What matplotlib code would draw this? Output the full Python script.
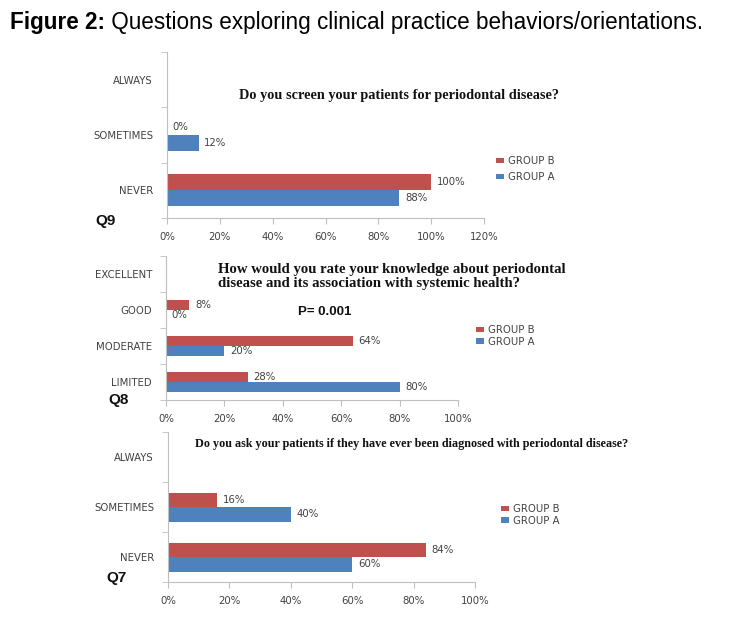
import numpy as np
import matplotlib
matplotlib.use("Agg")
import matplotlib.pyplot as plt

# ---------------- data ----------------
q9_categories = ["NEVER", "SOMETIMES", "ALWAYS"]
q9_group_a = [88, 12, np.nan]
q9_group_b = [100, 0, np.nan]
q9_ticks = [0, 20, 40, 60, 80, 100, 120]
q9_title = "Do you screen your patients for periodontal disease?"

q8_categories = ["LIMITED", "MODERATE", "GOOD", "EXCELLENT"]
q8_group_a = [80, 20, 0, np.nan]
q8_group_b = [28, 64, 8, np.nan]
q8_ticks = [0, 20, 40, 60, 80, 100]
q8_title = "How would you rate your knowledge about periodontal\ndisease and its association with systemic health?"
q8_pvalue = "P= 0.001"

q7_categories = ["NEVER", "SOMETIMES", "ALWAYS"]
q7_group_a = [60, 40, np.nan]
q7_group_b = [84, 16, np.nan]
q7_ticks = [0, 20, 40, 60, 80, 100]
q7_title = "Do you ask your patients if they have ever been diagnosed with periodontal disease?"

series_names = ["GROUP B", "GROUP A"]
fig_title_bold = "Figure 2:"
fig_title_rest = " Questions exploring clinical practice behaviors/orientations."

RED = "#C0504D"
BLUE = "#4F81BD"
TXT = "#404040"
AX = "#BFBFBF"
FS = 7.3

W, H = 756, 628
fig = plt.figure(figsize=(W / 100, H / 100), dpi=100)

def fx(px):
    return px / W

def fy(py):
    return 1 - py / H

def panel(left, right, top, bottom, cats, a, b, ticks, leg_x, leg_y, leg_sp, qlabel, qpos):
    ax = fig.add_axes([fx(left), fy(bottom), fx(right - left), (bottom - top) / H])
    y = np.arange(len(cats))
    h = 0.29
    bb = ax.barh(y + h / 2, b, height=h, color=RED, label=series_names[0])
    ba = ax.barh(y - h / 2, a, height=h, color=BLUE, label=series_names[1])
    for bars, vals in ((bb, b), (ba, a)):
        labs = ["" if np.isnan(v) else f"{v:.0f}%" for v in vals]
        ax.bar_label(bars, labels=labs, padding=4, fontsize=FS, color=TXT)
    ax.set_xlim(ticks[0], ticks[-1])
    ax.set_ylim(-0.5, len(cats) - 0.5)
    ax.set_xticks(ticks)
    ax.set_xticklabels([f"{t}%" for t in ticks], fontsize=FS, color=TXT)
    ax.set_yticks(y)
    ax.set_yticklabels(cats, fontsize=FS, color=TXT)
    ax.set_yticks(np.arange(-0.5, len(cats)), minor=True)
    ax.tick_params(axis="y", which="major", length=0, pad=10)
    ax.tick_params(axis="y", which="minor", length=4, color=AX, direction="out")
    ax.tick_params(axis="x", length=4, color=AX, direction="out", pad=6)
    for s in ("top", "right"):
        ax.spines[s].set_visible(False)
    for s in ("left", "bottom"):
        ax.spines[s].set_color(AX)
        ax.spines[s].set_linewidth(0.8)
    ax.legend(loc="upper left", bbox_to_anchor=(fx(leg_x), fy(leg_y)),
              bbox_transform=fig.transFigure, frameon=False, fontsize=FS,
              handlelength=0.8, handleheight=0.45, handletextpad=0.35,
              labelspacing=leg_sp, borderpad=0, borderaxespad=0,
              labelcolor=TXT)
    fig.text(fx(qpos[0]), fy(qpos[1]), qlabel, fontsize=11, fontweight="bold",
             family="Liberation Sans", ha="left", va="center", color="#111111")
    return ax

panel(167, 484, 52, 218, q9_categories, q9_group_a, q9_group_b, q9_ticks,
      496, 156, 0.6, "Q9", (95, 221))
panel(166, 458, 256, 400, q8_categories, q8_group_a, q8_group_b, q8_ticks,
      476, 325, 0.15, "Q8", (108, 400))
panel(168, 475, 432, 582, q7_categories, q7_group_a, q7_group_b, q7_ticks,
      501, 504, 0.15, "Q7", (106, 578))

serif = ["Liberation Serif", "DejaVu Serif"]
fig.text(fx(239), fy(95), q9_title, family=serif, fontweight="bold",
         fontsize=10.3, ha="left", va="center", color="#111111")
fig.text(fx(218), fy(277), q8_title, family=serif, fontweight="bold",
         fontsize=10.6, ha="left", va="center", color="#111111", linespacing=1.1)
fig.text(fx(298), fy(312), q8_pvalue, family="Liberation Sans", fontweight="bold",
         fontsize=9.5, ha="left", va="center", color="#111111")
fig.text(fx(195), fy(444), q7_title, family=serif, fontweight="bold",
         fontsize=8.7, ha="left", va="center", color="#111111")

# figure title, sized to span the same width as the reference
tfont = ["Liberation Sans", "DejaVu Sans"]
t1 = fig.text(fx(10), fy(23), fig_title_bold, family=tfont, fontweight="bold",
              fontsize=15, ha="left", va="center", color="#000000")
t2 = fig.text(0, fy(23), fig_title_rest, family=tfont,
              fontsize=15, ha="left", va="center", color="#000000")
fig.canvas.draw()
r = fig.canvas.get_renderer()
w_total = t1.get_window_extent(r).width + t2.get_window_extent(r).width
scale = 695 / w_total
t1.set_fontsize(15 * scale)
t2.set_fontsize(15 * scale)
fig.canvas.draw()
e = t1.get_window_extent(r)
t2.set_x(e.x1 / W)

fig.savefig("out.png", dpi=100)
